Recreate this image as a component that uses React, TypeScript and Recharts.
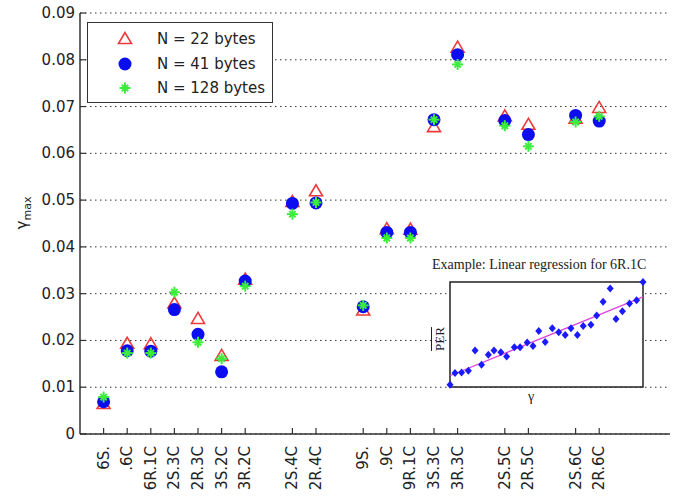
import { ScatterChart, Scatter, XAxis, YAxis, CartesianGrid, Legend, ReferenceLine, ReferenceArea } from "recharts";

const categories = ["6S.", ".6C", "6R.1C", "2S.3C", "2R.3C", "3S.2C", "3R.2C", "2S.4C", "2R.4C", "9S.", ".9C", "9R.1C", "3S.3C", "3R.3C", "2S.5C", "2R.5C", "2S.6C", "2R.6C"];
const positions = [1, 2, 3, 4, 5, 6, 7, 9, 10, 12, 13, 14, 15, 16, 18, 19, 21, 22];
const yTicks = [0, 0.01, 0.02, 0.03, 0.04, 0.05, 0.06, 0.07, 0.08, 0.09];

const n22 = [0.0064, 0.0193, 0.0192, 0.0279, 0.0246, 0.0167, 0.033, 0.0496, 0.0519, 0.0264, 0.0438, 0.0437, 0.0656, 0.0826, 0.0679, 0.0661, 0.0674, 0.0697];
const n41 = [0.0069, 0.0178, 0.0177, 0.0266, 0.0213, 0.0133, 0.0327, 0.0493, 0.0494, 0.0272, 0.0431, 0.0431, 0.0672, 0.0811, 0.067, 0.064, 0.0681, 0.0669];
const n128 = [0.0079, 0.0173, 0.0173, 0.0303, 0.0196, 0.0161, 0.0316, 0.047, 0.0495, 0.0275, 0.0419, 0.0419, 0.0672, 0.079, 0.0659, 0.0615, 0.0667, 0.0679];

// inset: linear regression example for 6R.1C
const insetGamma = [0, 0.78, 1.8, 2.85, 3.9, 4.9, 5.96, 6.84, 7.9, 8.8, 10, 10.9, 12, 12.9, 13.8, 14.8, 15.9, 16.9, 17.9, 18.8, 19.8, 20.7, 21.9, 22.8, 23.8, 24.9, 25.8, 26.8, 27.9, 29, 30];
const insetPer = [0.7, 4.2, 4.4, 4.9, 11, 6.7, 9.7, 11, 10.5, 9.2, 12, 12, 13.4, 12.4, 16.9, 13.6, 17.7, 16.5, 15.7, 17.7, 15.7, 18.4, 18.8, 21.6, 25.7, 29.7, 20.5, 22.9, 25.2, 26.2, 31.7];
const fitGamma = [0, 30];
const fitPer = [3.4, 27.2];

const RED = "#ee3a3a";
const BLUE = "#0c0cf0";
const GREEN = "#3bee3b";
const FONT = "DejaVu Sans";

const d22 = positions.map((x, i) => ({ x, y: n22[i] }));
const d41 = positions.map((x, i) => ({ x, y: n41[i] }));
const d128 = positions.map((x, i) => ({ x, y: n128[i] }));
const insetData = insetGamma.map((x, i) => ({ x, y: insetPer[i] }));

function Triangle({ cx, cy }: any) {
  return (
    <polygon
      points={`${cx},${cy - 6.5} ${cx - 6.5},${cy + 4.5} ${cx + 6.5},${cy + 4.5}`}
      fill="none"
      stroke={RED}
      strokeWidth={1.6}
    />
  );
}

function Dot({ cx, cy }: any) {
  return <circle cx={cx} cy={cy} r={6.5} fill={BLUE} />;
}

function Star({ cx, cy }: any) {
  return (
    <g stroke={GREEN} strokeWidth={2}>
      <line x1={cx - 5.5} y1={cy} x2={cx + 5.5} y2={cy} />
      <line x1={cx} y1={cy - 5.5} x2={cx} y2={cy + 5.5} />
      <line x1={cx - 3.2} y1={cy - 3.2} x2={cx + 3.2} y2={cy + 3.2} />
      <line x1={cx - 3.2} y1={cy + 3.2} x2={cx + 3.2} y2={cy - 3.2} />
    </g>
  );
}

function Diamond({ cx, cy }: any) {
  return <polygon points={`${cx},${cy - 4} ${cx + 3.5},${cy} ${cx},${cy + 4} ${cx - 3.5},${cy}`} fill="#1a1aff" />;
}

function XTick({ x, y, payload }: any) {
  const label = categories[positions.indexOf(payload.value)];
  return (
    <g>
      <line x1={x} y1={y} x2={x} y2={y - 6} stroke="#333" strokeWidth={1.2} />
      <text transform={`translate(${x + 5},${y + 12}) rotate(-90)`} textAnchor="end" fontSize={15} fontFamily={FONT} fill="#222">
        {label}
      </text>
    </g>
  );
}

function TopTick({ x, y }: any) {
  return <line x1={x} y1={y} x2={x} y2={y + 6} stroke="#333" strokeWidth={1.2} />;
}

function YTick({ x, y, payload }: any) {
  return (
    <g>
      <line x1={x} y1={y} x2={x + 6} y2={y} stroke="#333" strokeWidth={1.2} />
      <text x={x - 5} y={y} dy={5} textAnchor="end" fontSize={15} fontFamily={FONT} fill="#222">
        {payload.value === 0 ? "0" : payload.value.toFixed(2)}
      </text>
    </g>
  );
}

function RightTick({ x, y }: any) {
  return <line x1={x} y1={y} x2={x - 6} y2={y} stroke="#333" strokeWidth={1.2} />;
}

function YLabel() {
  return (
    <text transform="translate(27,213) rotate(-90)" textAnchor="middle" fontSize={15} fontFamily={FONT} fill="#222">
      <tspan>γ</tspan>
      <tspan fontSize={11} dy={4}>max</tspan>
    </text>
  );
}

const legendItems = [
  { name: "N = 22 bytes", Icon: Triangle },
  { name: "N = 41 bytes", Icon: Dot },
  { name: "N = 128 bytes", Icon: Star },
];

function LegendBox() {
  return (
    <div style={{ position: "relative", width: 186, height: 81, border: "1.5px solid #333", background: "#fff", boxSizing: "border-box" }}>
      {legendItems.map((it, i) => (
        <div key={it.name} style={{ position: "absolute", left: 0, top: 4 + i * 24.5, height: 24, width: 184, display: "flex", alignItems: "center" }}>
          <svg width={20} height={20} style={{ position: "absolute", left: 27 }}>
            <it.Icon cx={10} cy={10} />
          </svg>
          <span style={{ position: "absolute", left: 69, fontFamily: FONT, fontSize: 15, color: "#222", whiteSpace: "nowrap" }}>{it.name}</span>
        </div>
      ))}
    </div>
  );
}

function Inset() {
  const serif = "Liberation Serif";
  return (
    <div style={{ position: "absolute", left: 420, top: 250, width: 260, height: 160 }}>
      <ScatterChart width={260} height={160} margin={{ top: 32, right: 37, bottom: 23, left: 30 }}>
        <XAxis dataKey="x" type="number" domain={[0, 30]} hide />
        <YAxis dataKey="y" type="number" domain={[0, 31.7]} hide />
        <ReferenceArea
          x1={0}
          x2={30}
          y1={0}
          y2={31.7}
          fill="#fff"
          fillOpacity={1}
          stroke="#222"
          strokeWidth={1.5}
        />
        <ReferenceLine
          segment={[
            { x: fitGamma[0], y: fitPer[0] },
            { x: fitGamma[1], y: fitPer[1] },
          ]}
          stroke="#dd44dd"
          strokeWidth={1.3}
        />
        <Scatter data={insetData} shape={Diamond} isAnimationActive={false} />
      </ScatterChart>
      <div style={{ position: "absolute", left: 12, top: 7, fontFamily: serif, fontSize: 14, color: "#222", whiteSpace: "nowrap" }}>
        Example: Linear regression for 6R.1C
      </div>
      <div style={{ position: "absolute", left: 108, top: 139, fontFamily: serif, fontSize: 14, color: "#222" }}>γ</div>
      <div
        style={{
          position: "absolute",
          left: 20,
          top: 89,
          width: 0,
          height: 0,
          fontFamily: serif,
          fontSize: 13,
          color: "#222",
        }}
      >
        <span style={{ position: "absolute", transform: "translate(-50%,-50%) rotate(-90deg)", textDecoration: "overline", whiteSpace: "nowrap" }}>PER</span>
      </div>
    </div>
  );
}

export default function App() {
  return (
    <div style={{ position: "absolute", left: 0, top: 0, width: 686, height: 500, background: "#fff" }}>
      <ScatterChart width={686} height={500} margin={{ top: 13, right: 16, bottom: 0, left: 20 }}>
        <CartesianGrid vertical={false} stroke="#333" strokeDasharray="1.5 3.5" />
        <XAxis
          dataKey="x"
          type="number"
          domain={[0, 25]}
          ticks={positions}
          interval={0}
          height={66}
          tickSize={0}
          tickMargin={0}
          tickLine={false}
          tick={(p: any) => <XTick {...p} />}
          axisLine={{ stroke: "#333", strokeWidth: 1.5 }}
        />
        <XAxis
          xAxisId="top"
          orientation="top"
          type="number"
          domain={[0, 25]}
          ticks={positions}
          interval={0}
          height={0}
          tickSize={0}
          tickMargin={0}
          tickLine={false}
          tick={(p: any) => <TopTick {...p} />}
          axisLine={{ stroke: "#333", strokeWidth: 1.5 }}
        />
        <YAxis
          dataKey="y"
          type="number"
          domain={[0, 0.09]}
          ticks={yTicks}
          interval={0}
          width={60}
          tickSize={0}
          tickMargin={0}
          tickLine={false}
          tick={(p: any) => <YTick {...p} />}
          axisLine={{ stroke: "#333", strokeWidth: 1.5 }}
          label={<YLabel />}
        />
        <YAxis
          yAxisId="right"
          orientation="right"
          type="number"
          domain={[0, 0.09]}
          ticks={yTicks}
          interval={0}
          width={0}
          tickSize={0}
          tickMargin={0}
          tickLine={false}
          tick={(p: any) => <RightTick {...p} />}
          axisLine={{ stroke: "#333", strokeWidth: 1.5 }}
        />
        <Legend
          layout="vertical"
          align="center"
          verticalAlign="middle"
          wrapperStyle={{ left: 87, top: 22, width: 186, height: 81 }}
          content={() => <LegendBox />}
        />
        <Scatter name="N = 22 bytes" data={d22} shape={Triangle} isAnimationActive={false} />
        <Scatter name="N = 41 bytes" data={d41} shape={Dot} isAnimationActive={false} />
        <Scatter name="N = 128 bytes" data={d128} shape={Star} isAnimationActive={false} />
      </ScatterChart>
      <Inset />
    </div>
  );
}
